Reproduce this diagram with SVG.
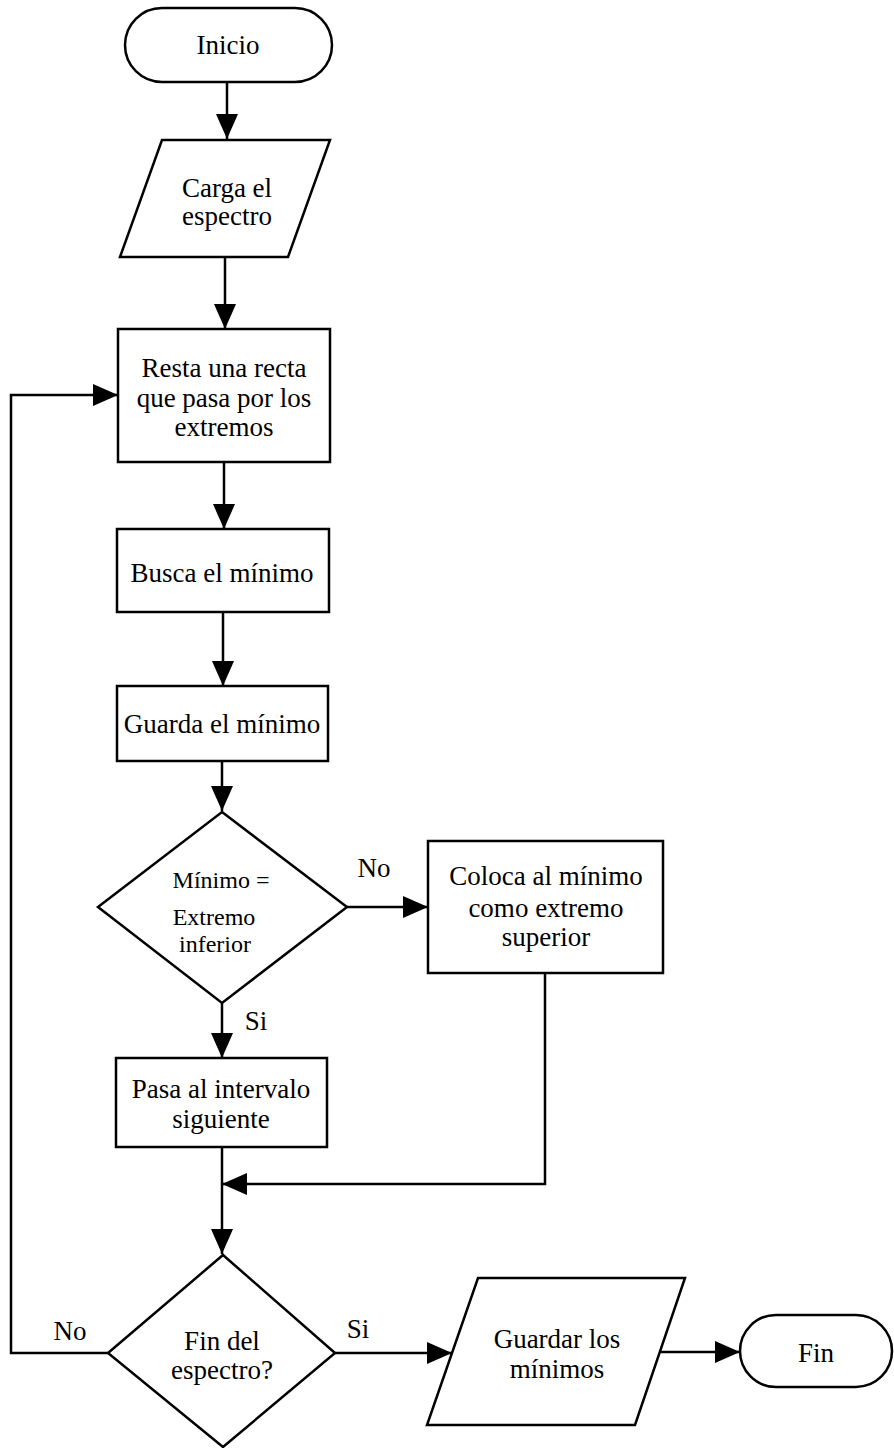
<svg xmlns="http://www.w3.org/2000/svg" width="894" height="1448" viewBox="0 0 894 1448">
<defs>
<style>
.s{fill:#fff;stroke:#000;stroke-width:2.5}
.c{fill:none;stroke:#000;stroke-width:2.5}
text{font-family:"Liberation Serif","Times New Roman",serif;font-size:27px;fill:#000;text-anchor:middle}
.sm{font-size:24px}
</style>
<marker id="ah" viewBox="0 0 25 22" refX="25" refY="11" markerWidth="25" markerHeight="22" markerUnits="userSpaceOnUse" orient="auto">
<path d="M0,0 L25,11 L0,22 Z" fill="#000"/>
</marker>
</defs>
<rect width="894" height="1448" fill="#fff"/>
<g id="connectors">
<path class="c" d="M227,82 L227,139" marker-end="url(#ah)"/>
<path class="c" d="M225,257 L225,329" marker-end="url(#ah)"/>
<path class="c" d="M224,462 L224,529" marker-end="url(#ah)"/>
<path class="c" d="M223,612 L223,686" marker-end="url(#ah)"/>
<path class="c" d="M222,761 L222,811" marker-end="url(#ah)"/>
<path class="c" d="M347,907 L428,907" marker-end="url(#ah)"/>
<path class="c" d="M222,1003 L222,1058" marker-end="url(#ah)"/>
<path class="c" d="M545,973 L545,1184 L222,1184" marker-end="url(#ah)"/>
<path class="c" d="M222,1147 L222,1254" marker-end="url(#ah)"/>
<path class="c" d="M108,1353 L11,1353 L11,395 L118,395" marker-end="url(#ah)"/>
<path class="c" d="M335,1353 L452,1353" marker-end="url(#ah)"/>
<path class="c" d="M660,1352 L740,1352" marker-end="url(#ah)"/>
<text x="374" y="877">No</text>
<text x="256" y="1030">Si</text>
<text x="70" y="1340">No</text>
<text x="358" y="1338">Si</text>
</g>
<g id="inicio">
<rect class="s" x="125" y="8" width="207" height="74" rx="37"/>
<text x="228" y="54">Inicio</text>
</g>
<g id="carga">
<polygon class="s" points="162,140 330,140 288,257 120,257"/>
<text x="227" y="197">Carga el</text>
<text x="227" y="225">espectro</text>
</g>
<g id="resta">
<rect class="s" x="118" y="329" width="212" height="133"/>
<text x="224" y="377">Resta una recta</text>
<text x="224" y="407">que pasa por los</text>
<text x="224" y="436">extremos</text>
</g>
<g id="busca">
<rect class="s" x="117" y="529" width="212" height="83"/>
<text x="222" y="582">Busca el mínimo</text>
</g>
<g id="guarda">
<rect class="s" x="117" y="686" width="211" height="75"/>
<text x="222" y="733">Guarda el mínimo</text>
</g>
<g id="decision1">
<polygon class="s" points="222,812 347,907 222,1003 98,907"/>
<text class="sm" x="221" y="888">Mínimo =</text>
<text class="sm" x="214" y="925">Extremo</text>
<text class="sm" x="215" y="952">inferior</text>
</g>
<g id="coloca">
<rect class="s" x="428" y="841" width="235" height="132"/>
<text x="546" y="885">Coloca al mínimo</text>
<text x="546" y="917">como extremo</text>
<text x="546" y="946">superior</text>
</g>
<g id="pasa">
<rect class="s" x="116" y="1058" width="211" height="89"/>
<text x="221" y="1098">Pasa al intervalo</text>
<text x="221" y="1128">siguiente</text>
</g>
<g id="decision2">
<polygon class="s" points="223,1255 335,1353 223,1447 108,1353"/>
<text x="222" y="1350">Fin del</text>
<text x="222" y="1379">espectro?</text>
</g>
<g id="guardar">
<polygon class="s" points="478,1278 685,1278 635,1425 427,1425"/>
<text x="557" y="1348">Guardar los</text>
<text x="557" y="1378">mínimos</text>
</g>
<g id="fin">
<rect class="s" x="740" y="1315" width="152" height="72" rx="36"/>
<text x="816" y="1362">Fin</text>
</g>
</svg>
